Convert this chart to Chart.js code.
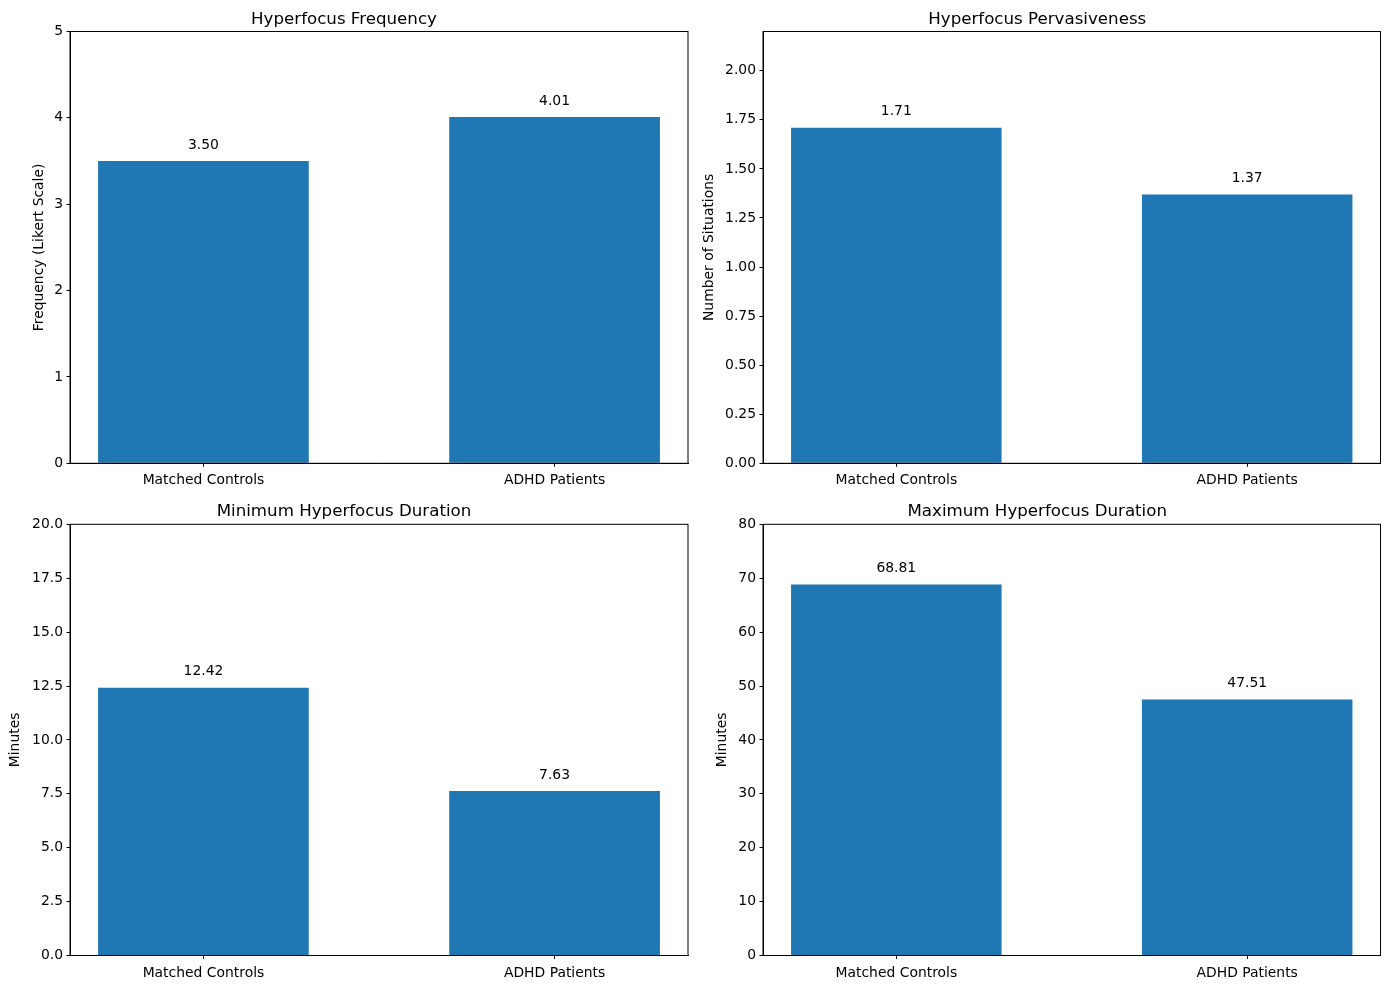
<!DOCTYPE html>
<html>
<head>
<meta charset="utf-8">
<script src="https://cdn.jsdelivr.net/npm/chart.js@4.4.1/dist/chart.umd.min.js"></script>
<style>
  body { margin: 0; background: #fff; }
  .cell { position: absolute; }
</style>
</head>
<body>
<div class="cell" style="left:0px;top:0px"><canvas id="c1" width="694" height="494"></canvas></div>
<div class="cell" style="left:694px;top:0px"><canvas id="c2" width="695" height="494"></canvas></div>
<div class="cell" style="left:0px;top:494px"><canvas id="c3" width="694" height="495"></canvas></div>
<div class="cell" style="left:694px;top:494px"><canvas id="c4" width="695" height="495"></canvas></div>
<script>
// data
var categories = ['Matched Controls', 'ADHD Patients'];
var frequency = [3.50, 4.01];
var pervasiveness = [1.71, 1.37];
var minDuration = [12.42, 7.63];
var maxDuration = [68.81, 47.51];

// tick labels
var freqTicks = [0, 1, 2, 3, 4, 5];
var pervTicks = [0, 0.25, 0.5, 0.75, 1.0, 1.25, 1.5, 1.75, 2.0];
var minTicks = [0, 2.5, 5, 7.5, 10, 12.5, 15, 17.5, 20];
var maxTicks = [0, 10, 20, 30, 40, 50, 60, 70, 80];

Chart.defaults.color = '#000';
Chart.defaults.font.family = "'DejaVu Sans', sans-serif";
Chart.defaults.font.size = 13.9;

// value text above bars + full box around the axes
var barLabels = {
    id: 'barLabels',
    afterDatasetsDraw(chart) {
        var ctx = chart.ctx;
        var meta = chart.getDatasetMeta(0);
        ctx.save();
        ctx.fillStyle = '#000';
        ctx.font = "13.9px 'DejaVu Sans', sans-serif";
        ctx.textAlign = 'center';
        ctx.textBaseline = 'middle';
        meta.data.forEach(function (el, i) {
            var v = chart.data.datasets[0].data[i].y;
            ctx.fillText(v.toFixed(2), el.x, el.y - 16);
        });
        ctx.restore();
    },
    afterDraw(chart) {
        var a = chart.chartArea;
        var ctx = chart.ctx;
        ctx.save();
        ctx.strokeStyle = '#000';
        ctx.lineWidth = 1;
        ctx.strokeRect(a.left, a.top, a.right - a.left, a.bottom - a.top);
        ctx.restore();
    }
};

function makeChart(id, values, ticks, decimals, yMax, title, yLabel, g) {
    var ctx = document.getElementById(id).getContext('2d');
    return new Chart(ctx, {
        type: 'bar',
        data: {
            datasets: [{
                data: categories.map(function (c, i) { return { x: i, y: values[i] }; }),
                backgroundColor: '#1f77b4',
                borderWidth: 0,
                categoryPercentage: 1,
                barPercentage: 0.6
            }]
        },
        options: {
            responsive: false,
            animation: false,
            layout: { padding: { left: 0, top: 0, bottom: 0, right: g.w - g.right } },
            plugins: {
                legend: { display: false },
                tooltip: { enabled: false },
                title: {
                    display: true,
                    text: title,
                    color: '#000',
                    font: { size: 16.67, weight: 'normal', lineHeight: 1.2 },
                    padding: { top: g.titleTop, bottom: g.top - g.titleTop - 20 }
                }
            },
            scales: {
                x: {
                    type: 'linear',
                    min: -0.38,
                    max: 1.38,
                    offset: false,
                    afterBuildTicks(scale) {
                        scale.ticks = categories.map(function (c, i) { return { value: i }; });
                    },
                    afterFit(scale) { scale.height = g.h - g.bottom; },
                    ticks: {
                        padding: g.xPad,
                        callback: function (v) { return categories[v]; }
                    },
                    grid: { offset: false, drawOnChartArea: false, tickLength: 3.5, tickColor: '#000', tickWidth: 1 },
                    border: { color: '#000', width: 1 }
                },
                y: {
                    min: 0,
                    max: yMax,
                    afterBuildTicks(scale) {
                        scale.ticks = ticks.map(function (t) { return { value: t }; });
                    },
                    afterFit(scale) { scale.width = g.left; },
                    ticks: {
                        padding: 3.5,
                        callback: function (v) { return v.toFixed(decimals); }
                    },
                    title: {
                        display: true,
                        text: yLabel,
                        color: '#000',
                        font: { size: 13.9, lineHeight: 1.2 },
                        padding: { top: g.yTitle - 8.3, bottom: 0 }
                    },
                    grid: { drawOnChartArea: false, tickLength: 3.5, tickColor: '#000', tickWidth: 1 },
                    border: { color: '#000', width: 1 }
                }
            }
        },
        plugins: [barLabels]
    });
}

makeChart('c1', frequency, freqTicks, 0, 5, 'Hyperfocus Frequency', 'Frequency (Likert Scale)',
    { w: 694, h: 494, left: 70, right: 688, top: 31.5, bottom: 463.3, titleTop: 10, yTitle: 39.3, xPad: 5.5 });
makeChart('c2', pervasiveness, pervTicks, 2, 2.2, 'Hyperfocus Pervasiveness', 'Number of Situations',
    { w: 695, h: 494, left: 69, right: 686.5, top: 31.5, bottom: 463.3, titleTop: 10, yTitle: 15, xPad: 5.5 });
makeChart('c3', minDuration, minTicks, 1, 20, 'Minimum Hyperfocus Duration', 'Minutes',
    { w: 694, h: 495, left: 70, right: 688, top: 30.3, bottom: 461.5, titleTop: 8, yTitle: 15, xPad: 6.5 });
makeChart('c4', maxDuration, maxTicks, 0, 80, 'Maximum Hyperfocus Duration', 'Minutes',
    { w: 695, h: 495, left: 69, right: 686.5, top: 30.3, bottom: 461.5, titleTop: 8, yTitle: 28.7, xPad: 6.5 });
</script>
</body>
</html>
